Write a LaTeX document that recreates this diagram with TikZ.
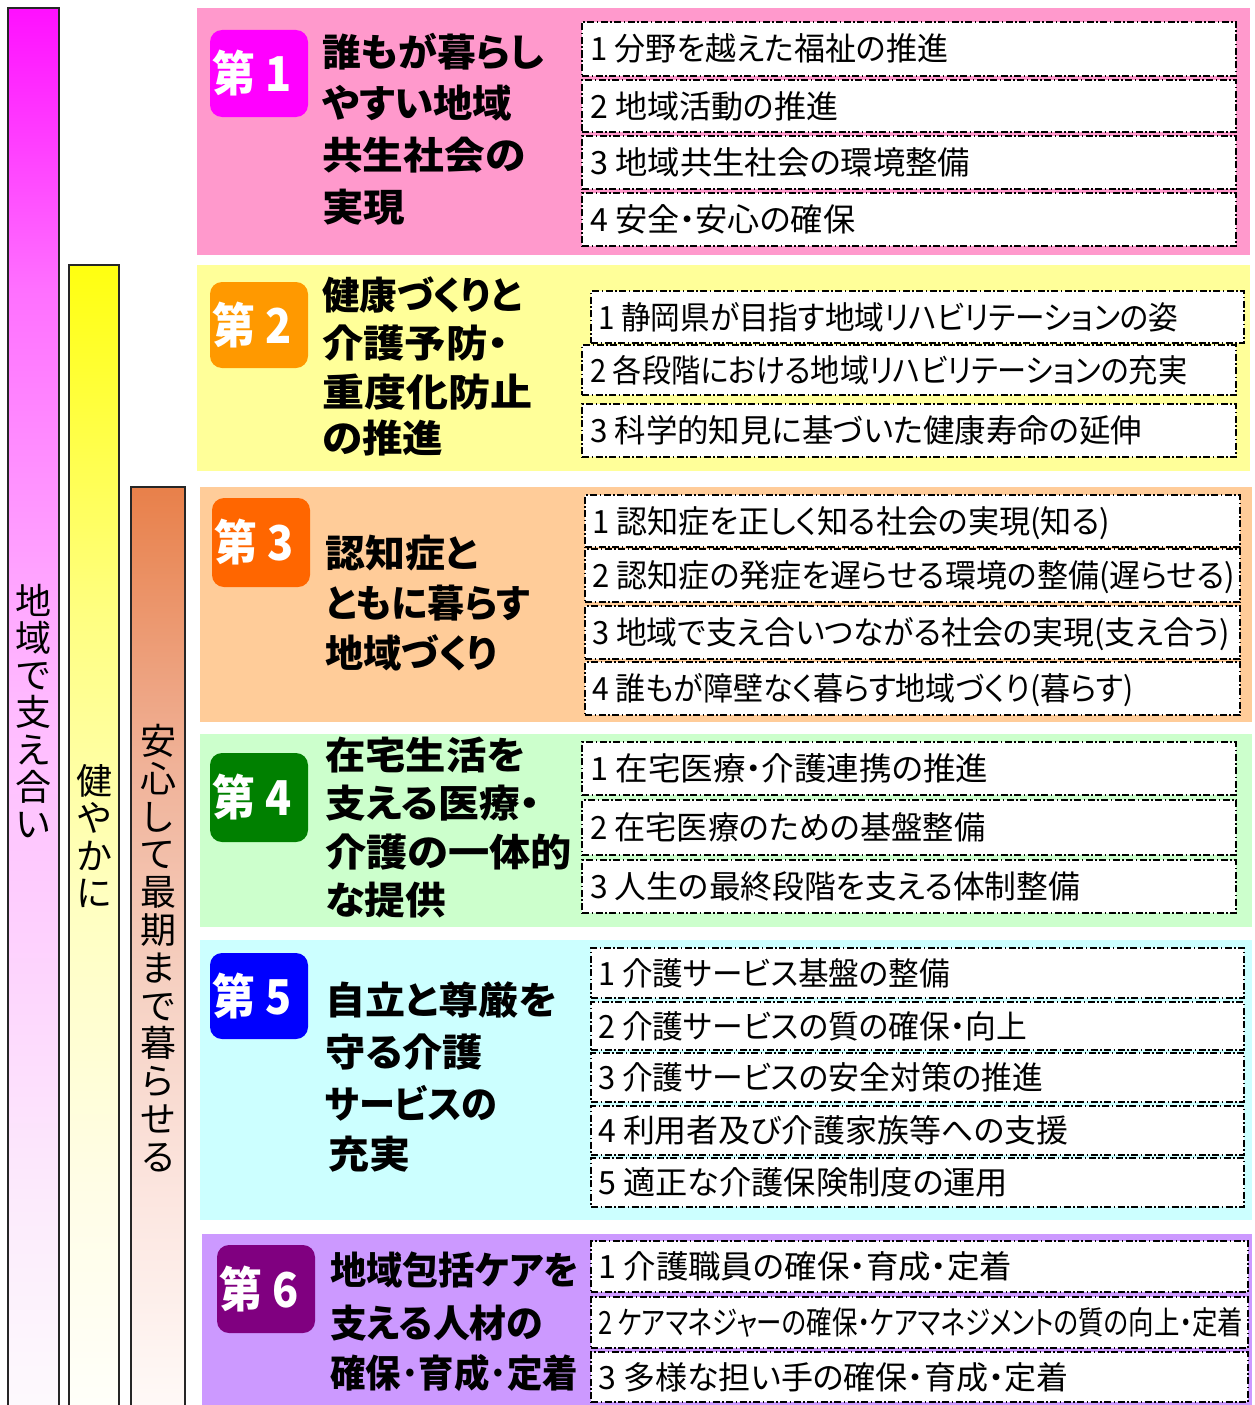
\documentclass[tikz,border=0pt]{standalone}
\usepackage{fontspec}
\usepackage{graphicx}
\setmainfont{Noto Sans CJK JP}[RawFeature=+palt]

\definecolor{secA}{HTML}{FF99CC}
\definecolor{secB}{HTML}{FFFF99}
\definecolor{secC}{HTML}{FFCC99}
\definecolor{secD}{HTML}{CCFFCC}
\definecolor{secE}{HTML}{CCFFFF}
\definecolor{secF}{HTML}{CC99FF}
\definecolor{bdgA}{HTML}{FF00FF}
\definecolor{bdgB}{HTML}{FF9900}
\definecolor{bdgC}{HTML}{FF6600}
\definecolor{bdgD}{HTML}{008000}
\definecolor{bdgE}{HTML}{0000FF}
\definecolor{bdgF}{HTML}{800080}
% bar gradients
\definecolor{mA}{HTML}{FF10FF}
\definecolor{mB}{HTML}{FF70FF}
\definecolor{mC}{HTML}{FFBBFF}
\definecolor{mD}{HTML}{FCEBFC}
\definecolor{mE}{HTML}{FDFAFD}
\definecolor{yA}{HTML}{FFFF10}
\definecolor{yB}{HTML}{FFFF80}
\definecolor{yC}{HTML}{FFFFC0}
\definecolor{yD}{HTML}{FFFDE6}
\definecolor{yE}{HTML}{FFFFFA}
\definecolor{oA}{HTML}{E8804A}
\definecolor{oB}{HTML}{F0B298}
\definecolor{oC}{HTML}{F6D2C4}
\definecolor{oD}{HTML}{FCE6E0}
\definecolor{oE}{HTML}{FFFAF8}

\pgfdeclareverticalshading{barmag}{100bp}{color(0bp)=(mE); color(25bp)=(mE); color(32.5bp)=(mD); color(50bp)=(mC); color(65bp)=(mB); color(75bp)=(mA); color(100bp)=(mA)}
\pgfdeclareverticalshading{baryel}{100bp}{color(0bp)=(yE); color(25bp)=(yE); color(35bp)=(yD); color(47.5bp)=(yC); color(60bp)=(yB); color(75bp)=(yA); color(100bp)=(yA)}
\pgfdeclareverticalshading{barora}{100bp}{color(0bp)=(oE); color(25bp)=(oE); color(36.5bp)=(oD); color(47.5bp)=(oC); color(60bp)=(oB); color(75bp)=(oA); color(100bp)=(oA)}

\tikzset{
  itembox/.style={draw=black, fill=white, line width=1.3pt,
    dash pattern=on 7pt off 2.5pt on 1.5pt off 2.5pt, inner sep=0pt},
  itemtext/.style={anchor=base west, inner sep=0pt,
    font=\fontsize{32}{36}\selectfont},
  ttltext/.style={anchor=base west, inner sep=0pt,
    font=\fontsize{38}{42}\selectfont\bfseries},
  badge/.style={rounded corners=12pt, inner sep=0pt},
  badgetext/.style={anchor=west, inner sep=0pt, text=white,
    font=\fontsize{48}{52}\selectfont\bfseries},
  vtext/.style={align=center, inner sep=0pt},
  bar/.style={draw=black!85, line width=2pt, shade},
}

\newcommand{\itm}[8]{%
  \node[itembox, minimum width={#4-#2}, minimum height={#5-#3}] (#1) at ({(#2+#4)/2},{(#3+#5)/2}) {};
  \node[itemtext] (#1t) at (#6,{(#3+#5)/2+12}) {\resizebox{#7pt}{\height}{#8}};
}
\newcommand{\ttl}[5]{%
  \node[ttltext] (#1) at (#2,{#3+14.5}) {\resizebox{#4pt}{\height}{#5}};
}
\newcommand{\bdg}[7]{%
  \node[badge, fill=#6, minimum width={#4-#2}, minimum height={#5-#3}] (#1) at ({(#2+#4)/2},{(#3+#5)/2}) {};
  \node[badgetext] (#1t) at ({#2+2.5},{(#3+#5)/2}) {\resizebox{79pt}{\height}{#7}};
}

\begin{document}
\begin{tikzpicture}[x=1pt,y=-1pt]
\path[use as bounding box, fill=white] (0,0) rectangle (1255,1405);
\clip (0,0) rectangle (1255,1405);

% vertical bars
\path[bar, shading=barmag] (8,8) rectangle (59,1415);
\path[bar, shading=baryel] (69,265) rectangle (119,1415);
\path[bar, shading=barora] (131,487) rectangle (185,1415);
\node[vtext, font=\fontsize{36}{37.3}\selectfont] (v1) at (33,711) {地\\域\\で\\支\\え\\合\\い};
\node[vtext, font=\fontsize{36}{37.3}\selectfont] (v2) at (94,836) {健\\や\\か\\に};
\node[vtext, font=\fontsize{36}{37.8}\selectfont] (v3) at (158,948) {安\\心\\し\\て\\最\\期\\ま\\で\\暮\\ら\\せ\\る};

% section backgrounds
\fill[secA] (197,8) rectangle (1250,255);
\fill[secB] (197,265) rectangle (1250,471);
\fill[secC] (200,487) rectangle (1252,722);
\fill[secD] (200,734) rectangle (1252,927);
\fill[secE] (200,940) rectangle (1252,1220);
\fill[secF] (202,1234) rectangle (1252,1410);

% badges
\bdg{b1}{210}{30}{308}{117}{bdgA}{第 1}
\bdg{b2}{210}{282}{308}{368}{bdgB}{第 2}
\bdg{b3}{212}{498}{310}{587}{bdgC}{第 3}
\bdg{b4}{210}{753}{308}{842}{bdgD}{第 4}
\bdg{b5}{210}{953}{308}{1039}{bdgE}{第 5}
\bdg{b6}{217}{1245}{315}{1333}{bdgF}{第 6}

% titles
\ttl{t1a}{322}{52}{222}{誰もが暮らし}
\ttl{t1b}{322}{103}{190}{やすい地域}
\ttl{t1c}{322}{155}{203}{共生社会の}
\ttl{t1d}{322}{207}{83}{実現}
\ttl{t2a}{322}{295}{200}{健康づくりと}
\ttl{t2b}{322}{343}{186}{介護予防・}
\ttl{t2c}{322}{392}{210}{重度化防止}
\ttl{t2d}{322}{438}{121}{の推進}
\ttl{t3a}{325}{553}{153}{認知症と}
\ttl{t3b}{325}{603}{205}{ともに暮らす}
\ttl{t3c}{325}{653}{172}{地域づくり}
\ttl{t4a}{325}{755}{200}{在宅生活を}
\ttl{t4b}{325}{803}{215}{支える医療・}
\ttl{t4c}{325}{852}{247}{介護の一体的}
\ttl{t4d}{325}{900}{121}{な提供}
\ttl{t5a}{325}{1000}{232}{自立と尊厳を}
\ttl{t5b}{325}{1052}{158}{守る介護}
\ttl{t5c}{325}{1104}{172}{サービスの}
\ttl{t5d}{328}{1154}{82}{充実}
\ttl{t6a}{330}{1270}{248}{地域包括ケアを}
\ttl{t6b}{330}{1323}{213}{支える人材の}
\ttl{t6c}{330}{1373}{248}{確保･育成･定着}

% items
\itm{a1}{582}{22}{1236}{76}{590}{358}{1 分野を越えた福祉の推進}
\itm{a2}{582}{80}{1236}{132}{590}{248}{2 地域活動の推進}
\itm{a3}{582}{136}{1236}{189}{590}{380}{3 地域共生社会の環境整備}
\itm{a4}{582}{193}{1236}{246}{590}{265}{4 安全・安心の確保}

\itm{c1}{591}{291}{1244}{343}{598}{580}{1 静岡県が目指す地域リハビリテーションの姿}
\itm{c2}{582}{345}{1236}{395}{590}{597}{2 各段階における地域リハビリテーションの充実}
\itm{c3}{582}{404}{1236}{457}{590}{552}{3 科学的知見に基づいた健康寿命の延伸}

\itm{d1}{585}{495}{1240}{547}{592}{518}{1 認知症を正しく知る社会の実現(知る)}
\itm{d2}{585}{549}{1240}{602}{592}{643}{2 認知症の発症を遅らせる環境の整備(遅らせる)}
\itm{d3}{585}{606}{1240}{659}{592}{638}{3 地域で支え合いつながる社会の実現(支え合う)}
\itm{d4}{585}{662}{1240}{715}{592}{541}{4 誰もが障壁なく暮らす地域づくり(暮らす)}

\itm{g1}{582}{742}{1236}{795}{590}{398}{1 在宅医療・介護連携の推進}
\itm{g2}{582}{800}{1236}{855}{590}{395}{2 在宅医療のための基盤整備}
\itm{g3}{582}{860}{1236}{913}{590}{490}{3 人生の最終段階を支える体制整備}

\itm{h1}{591}{948}{1244}{998}{598}{352}{1 介護サービス基盤の整備}
\itm{h2}{591}{1002}{1244}{1050}{598}{429}{2 介護サービスの質の確保・向上}
\itm{h3}{591}{1053}{1244}{1102}{598}{445}{3 介護サービスの安全対策の推進}
\itm{h4}{591}{1106}{1244}{1155}{598}{470}{4 利用者及び介護家族等への支援}
\itm{h5}{591}{1158}{1244}{1207}{598}{410}{5 適正な介護保険制度の運用}

\itm{k1}{591}{1241}{1248}{1292}{598}{414}{1 介護職員の確保・育成・定着}
\itm{k2}{591}{1297}{1248}{1348}{598}{645}{2 ケアマネジャーの確保・ケアマネジメントの質の向上・定着}
\itm{k3}{591}{1352}{1248}{1402}{598}{470}{3 多様な担い手の確保・育成・定着}
\end{tikzpicture}
\end{document}
